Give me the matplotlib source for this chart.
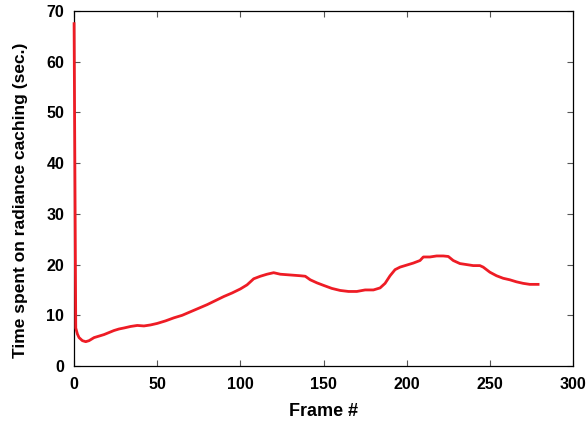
import matplotlib
matplotlib.use("Agg")
import matplotlib.pyplot as plt

frames = [0, 1, 2, 3, 5, 7, 9, 12, 15, 18, 21, 24, 27, 30, 34, 38, 42, 46, 50,
          55, 60, 65, 70, 75, 80, 85, 90, 95, 100, 104, 108, 112, 116, 120, 124,
          128, 132, 136, 139, 142, 146, 150, 155, 160, 165, 170, 175, 180, 184,
          187, 190, 193, 196, 200, 204, 208, 210, 214, 218, 222, 225, 228, 232,
          236, 240, 244, 246, 250, 254, 258, 262, 266, 270, 274, 279]
times = [67.5, 7.5, 6.3, 5.6, 5.0, 4.8, 5.0, 5.6, 5.9, 6.2, 6.6, 7.0, 7.3, 7.5,
         7.8, 8.0, 7.9, 8.1, 8.4, 8.9, 9.5, 10.0, 10.7, 11.4, 12.1, 12.9, 13.7,
         14.4, 15.2, 16.0, 17.2, 17.7, 18.1, 18.4, 18.1, 18.0, 17.9, 17.8, 17.7,
         17.0, 16.4, 15.9, 15.3, 14.9, 14.7, 14.7, 15.0, 15.0, 15.4, 16.3, 17.8,
         19.0, 19.5, 19.9, 20.3, 20.8, 21.5, 21.5, 21.7, 21.7, 21.6, 20.8, 20.2,
         20.0, 19.8, 19.8, 19.5, 18.5, 17.8, 17.3, 17.0, 16.6, 16.3, 16.1, 16.1]

xticks = [0, 50, 100, 150, 200, 250, 300]
yticks = [0, 10, 20, 30, 40, 50, 60, 70]

plt.rcParams['font.family'] = ['Liberation Sans', 'DejaVu Sans']
plt.rcParams['font.weight'] = 'bold'

fig = plt.figure(figsize=(5.88, 4.21), dpi=100)
ax = fig.add_axes([0.126, 0.1306, 0.8485, 0.8433])
ax.plot(frames, times, color='#ee1c25', linewidth=2.0, solid_joinstyle='round',
        clip_on=False, zorder=3)
ax.set_xlim(0, 300)
ax.set_ylim(0, 70)
ax.set_xticks(xticks)
ax.set_yticks(yticks)
ax.tick_params(direction='in', top=True, right=True, length=4, width=0.8,
               color='#555555', labelsize=11.5)
ax.tick_params(axis='x', pad=8)
ax.tick_params(axis='y', pad=7)
for lab in ax.get_xticklabels() + ax.get_yticklabels():
    lab.set_fontweight('bold')
for s in ax.spines.values():
    s.set_linewidth(0.9)
ax.set_xlabel('Frame #', fontsize=13, fontweight='bold', labelpad=8)
ax.set_ylabel('Time spent on radiance caching (sec.)', fontsize=12.5, fontweight='bold')
ax.yaxis.set_label_coords(-0.092, 0.468)
fig.savefig('out.png', dpi=100)
